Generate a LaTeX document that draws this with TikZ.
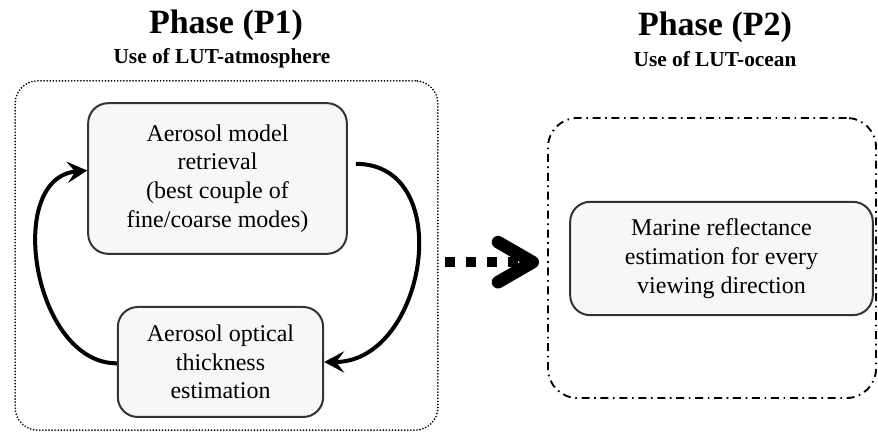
\documentclass[tikz,border=0pt]{standalone}
\usepackage{fontspec}
\setmainfont{Liberation Serif}
\usetikzlibrary{arrows.meta}

\begin{document}
\begin{tikzpicture}[x=0.75pt,y=-0.75pt,
		task/.style={draw=black!80, line width=1.5pt, fill=black!3, rounded corners=15pt, align=center, inner sep=0pt, font=\rmfamily\fontsize{18}{21.5}\selectfont},
		phase/.style={draw, rounded corners=17pt, inner sep=0pt},
		title/.style={font=\rmfamily\fontsize{25.5}{30}\selectfont\bfseries},
		subtitle/.style={font=\rmfamily\fontsize{16}{19}\selectfont\bfseries},
		cycle/.style={line width=3pt, -{Stealth[length=15pt,width=16pt,inset=6pt]}}]
		
		\useasboundingbox (0,0) rectangle (878,434);
		
		\node[title] (t1) at (226,25) {Phase (P1)};
		\node[subtitle] (s1) at (222,58) {Use of LUT-atmosphere};
		\node[title] (t2) at (715,27) {Phase (P2)};
		\node[subtitle] (s2) at (715,59) {Use of LUT-ocean};
		
		\node[phase, line width=1.4pt, line cap=round, dash pattern=on 0pt off 2.3pt, minimum width=317pt, minimum height=262pt] (p1) at (226.5,255.5) {};
		\node[phase, rounded corners=22pt, line width=1.4pt, dash pattern=on 6pt off 3.5pt on 1.2pt off 3.5pt, minimum width=246pt, minimum height=210pt] (p2) at (712,258) {};
		
		\node[task, minimum width=194pt, minimum height=113pt] (model) at (217.5,178.5) {Aerosol model\\retrieval\\(best couple of\\fine/coarse modes)};
		\node[task, minimum width=154pt, minimum height=82.5pt] (aot) at (220.5,362) {Aerosol optical\\thickness\\estimation};
		\node[task, minimum width=227pt, minimum height=85pt] (marine) at (721.5,258.5) {Marine reflectance\\estimation for every\\viewing direction};
		
		\draw[cycle] ([yshift=11pt]model.east) ++(6pt,0) to[out=0, in=0, looseness=1.3] (aot.east);
		\draw[cycle] ([yshift=-1pt]aot.west) to[out=180, in=185, looseness=1.1] ([yshift=6pt]model.west);
		
		\draw[line width=7.5pt, dash pattern=on 7pt off 8.7pt, shorten <=5pt, shorten >=6pt, -{Straight Barb[length=26pt, width=30pt, line width=9.5pt, round]}] ([yshift=-5pt]p1.east) -- ([yshift=-5pt]p1.east -| p2.west);
		
	\end{tikzpicture}
\end{document}
